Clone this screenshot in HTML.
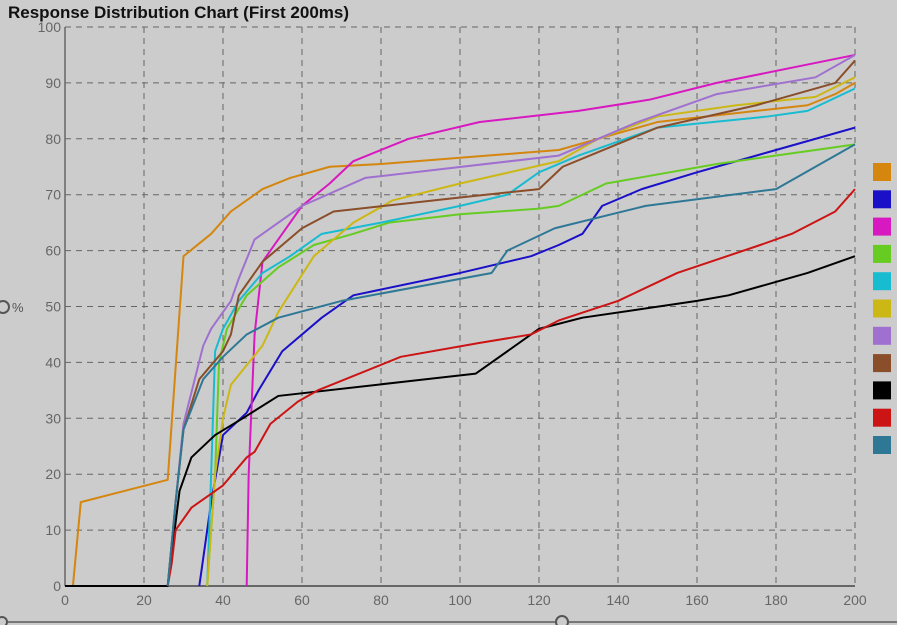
<!DOCTYPE html>
<html><head><meta charset="utf-8"><style>
body{margin:0;background:#cccccc;font-family:"Liberation Sans",sans-serif;}
svg{display:block}
</style></head><body>
<svg width="897" height="625" id="chart">
<rect width="897" height="625" fill="#cccccc"/>
<text x="8" y="18" font-size="17" font-weight="bold" fill="#111">Response Distribution Chart (First 200ms)</text>
<circle cx="3" cy="307" r="6" fill="none" stroke="#555" stroke-width="2"/>
<text x="12" y="312" font-size="13" fill="#555">%</text>
<line x1="0" y1="622" x2="897" y2="622" stroke="#777" stroke-width="2"/>
<circle cx="2" cy="622" r="5" fill="#ccc" stroke="#555" stroke-width="2"/>
<circle cx="562" cy="622" r="6" fill="#ccc" stroke="#555" stroke-width="2"/>
<g id="grid"></g><g id="axes"></g><g id="series"></g><g id="legend"></g>
</svg>
<script>
const xTicks=[0,20,40,60,80,100,120,140,160,180,200];
const yTicks=[0,10,20,30,40,50,60,70,80,90,100];
const seriesColors=["#d4860f","#1a10c8","#d818c0","#66cc22","#18bcd0","#ccb814","#a070d0","#8a4e2a","#000000","#cc1414","#2e7896"];
const sOrange=[[2,0],[4,15],[26,19],[30,59],[37,63],[42,67],[50,71],[57,73],[67,75],[80,75.5],[125,78],[140,81],[150,83],[175,85],[188,86],[195,88],[200,90]];
const sBlue=[[34,0],[37,15],[40,27],[46,31],[49,35],[55,42],[65,48],[73,52],[100,56],[118,59],[125,61],[131,63],[136,68],[146,71],[160,74],[180,78],[200,82]];
const sMagenta=[[46,0],[46.5,20],[48,45],[50,58],[55,63],[60,68],[67,72],[73,76],[87,80],[105,83],[130,85],[148,87],[165,90],[200,95]];
const sGreen=[[36,0],[38,20],[39,40],[41,46],[46,52],[54,57],[63,61],[73,63],[82,65],[100,66.5],[120,67.5],[125,68],[137,72],[145,73],[165,75.5],[190,78],[200,79]];
const sCyan=[[36,0],[37,20],[38,42],[40,46],[44,51],[50,56],[57,59],[65,63],[80,65],[100,68],[112,70],[120,74],[130,77],[150,82],[178,84],[188,85],[200,89]];
const sYellow=[[36,0],[38,20],[40,30],[42,36],[50,43],[54,49],[63,59],[73,65],[83,69],[100,72],[125,76],[135,80],[150,84],[170,86],[190,87.5],[200,91]];
const sPurple=[[26,0],[28,15],[30,29],[35,43],[37,46],[42,51],[44,55],[48,62],[60,68],[76,73],[125,77],[145,83],[165,88],[190,91],[200,95]];
const sBrown=[[26,0],[28,15],[30,28],[34,37],[40,42],[42,45],[44,52],[50,58],[60,64],[68,67],[100,69.5],[120,71],[126,75],[150,82],[175,86],[195,90],[200,94]];
const sBlack=[[0,0],[26,0],[29,17],[32,23],[38,27],[45,30],[54,34],[104,38],[120,46],[131,48],[160,51],[168,52],[188,56],[200,59]];
const sRed=[[26,0],[27,4],[28,10],[32,14],[40,18],[46,23],[48,24],[52,29],[59,33],[64,35],[85,41],[105,43.5],[118,45],[125,47.5],[140,51],[155,56],[176,61],[184,63],[195,67],[200,71]];
const sTeal=[[26,0],[28,15],[30,28],[35,37],[40,41],[46,45],[54,48],[70,51],[108,56],[112,60],[124,64],[147,68],[180,71],[200,79]];
const seriesNames=["orange","blue","magenta","green","cyan","yellow","purple","brown","black","red","teal"];
const allSeries=[sOrange,sBlue,sMagenta,sGreen,sCyan,sYellow,sPurple,sBrown,sBlack,sRed,sTeal];

const NS="http://www.w3.org/2000/svg";
const X0=65,X1=855,Y0=586,Y1=27;
const xs=v=>X0+(v-0)/(200-0)*(X1-X0);
const ys=v=>Y0-(v-0)/(100-0)*(Y0-Y1);
function mk(t,a,p){const e=document.createElementNS(NS,t);for(const k in a)e.setAttribute(k,a[k]);p.appendChild(e);return e;}
const grid=document.getElementById('grid'),axes=document.getElementById('axes'),ser=document.getElementById('series'),leg=document.getElementById('legend');
xTicks.forEach(t=>{
  if(t>0){const l=mk('line',{x1:xs(t),x2:xs(t),y1:Y1,y2:Y0,stroke:'#666','stroke-dasharray':'6,5','stroke-width':1},grid);
  
  }
  const tx=mk('text',{x:xs(t),y:Y0+19,'text-anchor':'middle','font-size':14,fill:'#666'},axes);
  tx.textContent=t;
  
  
});
yTicks.forEach(t=>{
  if(t>0){const l=mk('line',{x1:X0,x2:X1,y1:ys(t),y2:ys(t),stroke:'#666','stroke-dasharray':'6,5','stroke-width':1},grid);
  
  }
  const tx=mk('text',{x:X0-4,y:ys(t)+5,'text-anchor':'end','font-size':14,fill:'#666'},axes);
  tx.textContent=t;
  
  
});
const ya=mk('line',{x1:X0,x2:X0,y1:Y1,y2:Y0,stroke:'#666','stroke-width':1.5},axes);


const xa=mk('line',{x1:X0,x2:X1,y1:Y0,y2:Y0,stroke:'#666','stroke-width':2},axes);


allSeries.forEach((s,i)=>{
  const p=mk('polyline',{points:s.map(d=>xs(d[0])+','+ys(d[1])).join(' '),fill:'none',stroke:seriesColors[i],'stroke-width':2,'stroke-linejoin':'round'},ser);
  
  
  const r=mk('rect',{x:873,y:163+i*27.3,width:18,height:18,fill:seriesColors[i]},leg);
  
  
});
</script>
</body></html>
